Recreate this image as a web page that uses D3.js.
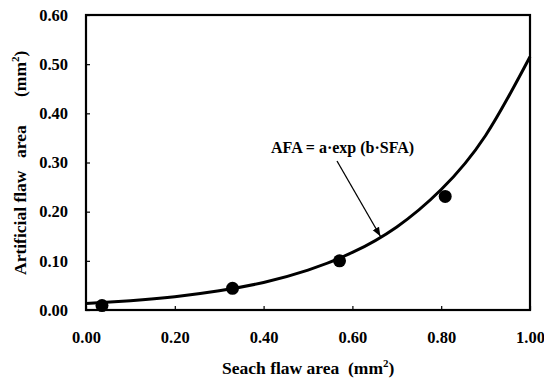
<!DOCTYPE html>
<html>
<head>
<meta charset="utf-8">
<script src="https://cdn.jsdelivr.net/npm/d3@7"></script>
<style>
body{margin:0;background:#fff}
text{font-family:"Liberation Serif","Times New Roman",serif;font-weight:bold;fill:#000}
</style>
</head>
<body>
<div id="chart"></div>
<script>

// measured points (search flaw area vs artificial flaw area)
const sfa = [0.036, 0.330, 0.571, 0.809]
const afa = [0.009, 0.044, 0.100, 0.231]

// fitted curve AFA = a*exp(b*SFA)
const curveX = [0.0, 0.1, 0.2, 0.3, 0.4, 0.5, 0.6, 0.7, 0.8, 0.9, 1.0]
const curveY = [0.013, 0.019, 0.027, 0.039, 0.056, 0.081, 0.117, 0.169, 0.245, 0.355, 0.515]

const xTicks = [0, 0.2, 0.4, 0.6, 0.8, 1.0]
const yTicks = [0, 0.1, 0.2, 0.3, 0.4, 0.5, 0.6]

const width = 544
const height = 382
const plotL = 86, plotR = 530, plotT = 15, plotB = 310

const svg = d3.select("#chart")
.append("svg")
.attr("width", width)
.attr("height", height)

const x = d3.scaleLinear().domain([0, 1]).range([plotL, plotR])
const y = d3.scaleLinear().domain([0, 0.6]).range([plotB, plotT])

// x axis
const gx = svg.append("g")
.attr("transform", `translate(0,${plotB})`)
.call(d3.axisBottom(x).tickValues(xTicks).tickFormat(d3.format(".2f"))
.tickSizeInner(-4).tickSizeOuter(0).tickPadding(21))
gx.select(".domain").remove()
gx.selectAll("line").attr("stroke", "#000").attr("stroke-width", 1.2)
gx.selectAll("text").attr("font-size", "16.5px")

// y axis
const gy = svg.append("g")
.attr("transform", `translate(${plotL},0)`)
.call(d3.axisLeft(y).tickValues(yTicks).tickFormat(d3.format(".2f"))
.tickSizeInner(-4).tickSizeOuter(0).tickPadding(18))
gy.select(".domain").remove()
gy.selectAll("line").attr("stroke", "#000").attr("stroke-width", 1.2)
gy.selectAll("text").attr("font-size", "16.5px")

// frame
svg.append("rect")
.attr("x", plotL)
.attr("y", plotT)
.attr("width", plotR - plotL)
.attr("height", plotB - plotT)
.attr("fill", "none")
.attr("stroke", "#000")
.attr("stroke-width", 2.2)

// fitted curve
const line = d3.line()
.x((d, i) => x(curveX[i]))
.y(d => y(d))
.curve(d3.curveNatural)

svg.append("path")
.attr("d", line(curveY))
.attr("fill", "none")
.attr("stroke", "#000")
.attr("stroke-width", 3)

// data points
svg.selectAll("circle")
.data(sfa)
.enter()
.append("circle")
.attr("cx", d => x(d))
.attr("cy", (d, i) => y(afa[i]))
.attr("r", 6.5)
.attr("fill", "#000")

// annotation
svg.append("defs").append("marker")
.attr("id", "arrow")
.attr("viewBox", "0 0 10 10")
.attr("refX", 10)
.attr("refY", 5)
.attr("markerWidth", 9)
.attr("markerHeight", 9)
.attr("markerUnits", "userSpaceOnUse")
.attr("orient", "auto")
.append("path")
.attr("d", "M0,1 L10,5 L0,9 Z")
.attr("fill", "#000")

svg.append("line")
.attr("x1", 337)
.attr("y1", 161)
.attr("x2", x(0.663))
.attr("y2", y(0.150))
.attr("stroke", "#000")
.attr("stroke-width", 1.3)
.attr("marker-end", "url(#arrow)")

svg.append("text")
.attr("x", 271)
.attr("y", 153)
.attr("font-size", "16px")
.text("AFA = a\u00b7exp (b\u00b7SFA)")

// axis titles
const xt = svg.append("text")
.attr("x", 222)
.attr("y", 374)
.attr("font-size", "17.5px")
.style("white-space", "pre")
xt.append("tspan").text("Seach flaw area  (mm")
xt.append("tspan").attr("dy", -7).attr("font-size", "11px").text("2")
xt.append("tspan").attr("dy", 7).text(")")

const yg = svg.append("g")
.attr("font-size", "17.5px")

yg.append("text")
.attr("transform", "translate(26,275) rotate(-90)")
.text("Artificial flaw")

yg.append("text")
.attr("transform", "translate(26,158) rotate(-90)")
.text("area")

const ym = yg.append("text")
.attr("transform", "translate(26,97) rotate(-90)")
ym.append("tspan").text("(mm")
ym.append("tspan").attr("dy", -7).attr("font-size", "11px").text("2")
ym.append("tspan").attr("dy", 7).text(")")

</script>
</body>
</html>
